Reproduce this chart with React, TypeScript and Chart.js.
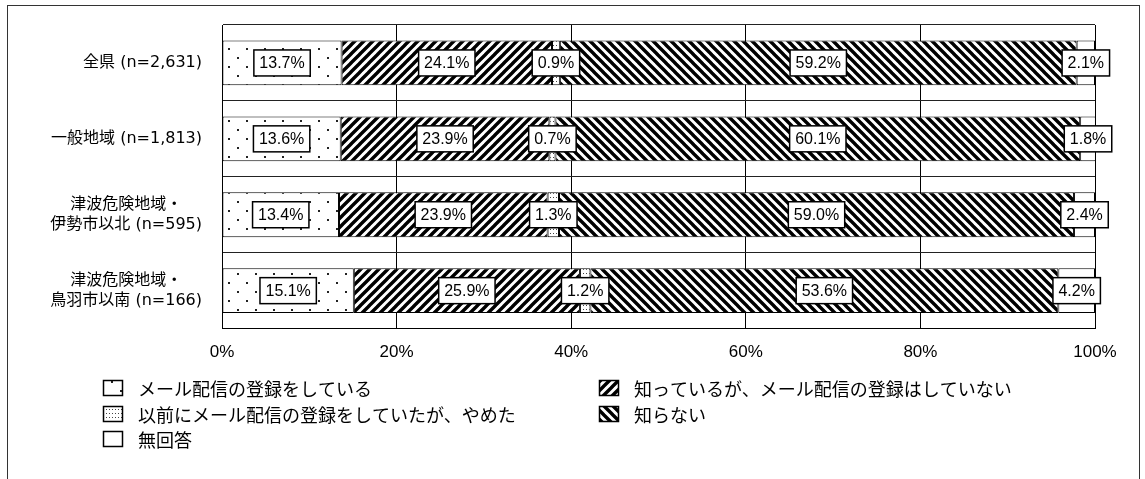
import React, { useEffect, useRef } from 'react';
import { Chart, registerables } from 'chart.js';

Chart.register(...registerables);

// ---- data ----
const categories: string[][] = [
  ['全県 (n=2,631)'],
  ['一般地域 (n=1,813)'],
  ['津波危険地域・', '伊勢市以北 (n=595)'],
  ['津波危険地域・', '鳥羽市以南 (n=166)'],
];
const seriesNames = [
  'メール配信の登録をしている',
  '知っているが、メール配信の登録はしていない',
  '以前にメール配信の登録をしていたが、やめた',
  '知らない',
  '無回答',
];
const registered = [13.7, 13.6, 13.4, 15.1];
const knowNotRegistered = [24.1, 23.9, 23.9, 25.9];
const stoppedRegistration = [0.9, 0.7, 1.3, 1.2];
const unaware = [59.2, 60.1, 59.0, 53.6];
const noAnswer = [2.1, 1.8, 2.4, 4.2];
const xTicks = [0, 20, 40, 60, 80, 100];

const seriesData = [registered, knowNotRegistered, stoppedRegistration, unaware, noAnswer];
const patternKinds = ['dots', 'fwd', 'fine', 'back', 'blank'];

const JP_FONT = '"DejaVu Sans", "Noto Sans CJK JP", sans-serif';
const LEGEND_FONT = '"Noto Sans CJK JP", sans-serif';
const NUM_FONT = '"Liberation Sans", sans-serif';

function makePattern(kind: string): CanvasPattern | string {
  if (kind === 'blank') return '#ffffff';
  const c = document.createElement('canvas');
  const ctx = c.getContext('2d')!;
  if (kind === 'dots') {
    c.width = 18; c.height = 18;
    ctx.fillStyle = '#fff'; ctx.fillRect(0, 0, 18, 18);
    ctx.fillStyle = '#222';
    ctx.fillRect(3, 3, 2, 2);
    ctx.fillRect(12, 12, 2, 2);
  } else if (kind === 'fine') {
    c.width = 3; c.height = 4;
    ctx.fillStyle = '#fff'; ctx.fillRect(0, 0, 3, 4);
    ctx.fillStyle = '#444';
    ctx.fillRect(1, 1, 1, 1);
  } else {
    const s = 9;
    c.width = s; c.height = s;
    ctx.fillStyle = '#fff'; ctx.fillRect(0, 0, s, s);
    ctx.strokeStyle = '#000';
    ctx.lineWidth = 3.4;
    ctx.beginPath();
    for (const x0 of [-s, 0, s]) {
      if (kind === 'fwd') {
        ctx.moveTo(x0 - 1, s + 1);
        ctx.lineTo(x0 + s + 1, -1);
      } else {
        ctx.moveTo(x0 - 1, -1);
        ctx.lineTo(x0 + s + 1, s + 1);
      }
    }
    ctx.stroke();
  }
  return ctx.createPattern(c, 'repeat')!;
}

const framePlugin = {
  id: 'frame',
  beforeDraw(chart: any) {
    const ctx = chart.ctx;
    ctx.save();
    ctx.fillStyle = '#fff';
    ctx.fillRect(0, 0, chart.width, chart.height);
    ctx.restore();
  },
  afterDraw(chart: any) {
    const ctx = chart.ctx;
    ctx.save();
    ctx.strokeStyle = '#333';
    ctx.lineWidth = 1;
    ctx.strokeRect(7.5, 5.5, 1132, 500);
    ctx.restore();
  },
};

const categoryLabelPlugin = {
  id: 'categoryLabels',
  afterDraw(chart: any) {
    const ctx = chart.ctx;
    const yScale = chart.scales.y;
    const right = chart.chartArea.left - 20;
    ctx.save();
    ctx.font = `16px ${JP_FONT}`;
    ctx.fillStyle = '#000';
    ctx.textAlign = 'center';
    ctx.textBaseline = 'middle';
    (chart.data.labels as string[][]).forEach((lines, i) => {
      const yc = yScale.getPixelForValue(i);
      const maxW = Math.max(...lines.map((l) => ctx.measureText(l).width));
      const cx = right - maxW / 2;
      const lh = 20;
      lines.forEach((l, j) => {
        ctx.fillText(l, cx, yc + (j - (lines.length - 1) / 2) * lh);
      });
    });
    ctx.restore();
  },
};

const valueLabelPlugin = {
  id: 'valueLabels',
  afterDatasetsDraw(chart: any) {
    const ctx = chart.ctx;
    ctx.save();
    ctx.font = `16px ${NUM_FONT}`;
    ctx.textAlign = 'center';
    ctx.textBaseline = 'middle';
    chart.data.datasets.forEach((ds: any, di: number) => {
      const meta = chart.getDatasetMeta(di);
      meta.data.forEach((el: any, i: number) => {
        const v = ds.data[i] as number;
        const p = el.getProps(['x', 'base', 'y'], true);
        const cx = (p.x + p.base) / 2;
        const text = v.toFixed(1) + '%';
        const w = ctx.measureText(text).width + 11;
        const h = 26;
        ctx.fillStyle = '#fff';
        ctx.fillRect(cx - w / 2, p.y - h / 2, w, h);
        ctx.strokeStyle = '#000';
        ctx.lineWidth = 1.5;
        ctx.strokeRect(cx - w / 2, p.y - h / 2, w, h);
        ctx.fillStyle = '#000';
        ctx.fillText(text, cx, p.y + 1);
      });
    });
    ctx.restore();
  },
};

const legendPlugin = {
  id: 'customLegend',
  afterDraw(chart: any) {
    const ctx = chart.ctx;
    const cols = [103, 599];
    const rows = [388, 414, 439];
    ctx.save();
    ctx.font = `18px ${LEGEND_FONT}`;
    ctx.textAlign = 'left';
    ctx.textBaseline = 'middle';
    chart.data.datasets.forEach((ds: any, k: number) => {
      const x = cols[k % 2];
      const y = rows[Math.floor(k / 2)];
      ctx.fillStyle = ds.backgroundColor;
      ctx.fillRect(x, y - 8, 20, 16);
      ctx.strokeStyle = '#000';
      ctx.lineWidth = 1.5;
      ctx.strokeRect(x + 0.5, y - 7.5, 19, 15);
      ctx.fillStyle = '#000';
      ctx.fillText(ds.label, x + 35, y + 1);
    });
    ctx.restore();
  },
};

export default function App() {
  const ref = useRef<HTMLCanvasElement>(null);
  useEffect(() => {
    const canvas = ref.current!;
    const chart = new Chart(canvas, {
      type: 'bar',
      data: {
        labels: categories as any,
        datasets: seriesNames.map((name, k) => ({
          label: name,
          data: seriesData[k],
          backgroundColor: makePattern(patternKinds[k]) as any,
          borderColor: '#000',
          borderWidth: 1,
          borderSkipped: false,
          barPercentage: 0.59,
          categoryPercentage: 1,
        })),
      },
      options: {
        indexAxis: 'y',
        responsive: false,
        animation: false,
        devicePixelRatio: 1,
        layout: { padding: { left: 222, right: 50, top: 25, bottom: 102 } },
        plugins: {
          legend: { display: false },
          tooltip: { enabled: false },
        },
        scales: {
          x: {
            stacked: true,
            min: 0,
            max: 100,
            afterBuildTicks: (s: any) => {
              s.ticks = xTicks.map((v) => ({ value: v }));
            },
            ticks: {
              color: '#000',
              font: { family: NUM_FONT, size: 17 },
              padding: 14,
              maxRotation: 0,
              callback: (v: any) => v + '%',
            },
            grid: { color: '#000', lineWidth: 1, drawTicks: false },
            border: { color: '#000', width: 1 },
          },
          y: {
            stacked: true,
            ticks: { display: false },
            grid: { offset: true, color: '#222', lineWidth: 1, drawTicks: false },
            border: { color: '#000', width: 1 },
          },
        },
      },
      plugins: [framePlugin, categoryLabelPlugin, valueLabelPlugin, legendPlugin],
    });
    return () => chart.destroy();
  }, []);
  return (
    <canvas
      ref={ref}
      width={1145}
      height={479}
      style={{ position: 'absolute', left: 0, top: 0, width: 1145, height: 479 }}
    />
  );
}
